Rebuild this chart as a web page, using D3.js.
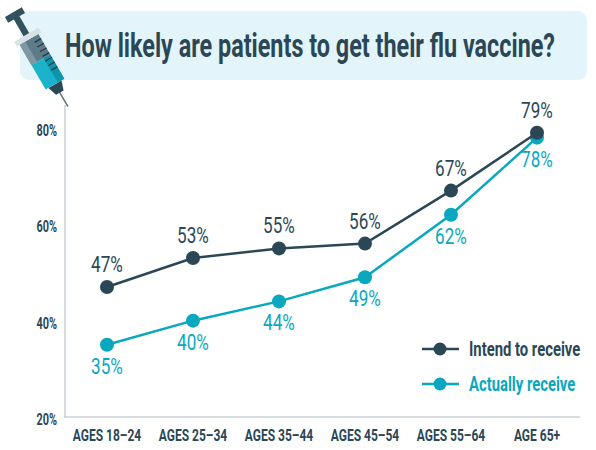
<!DOCTYPE html>
<html>
<head>
<meta charset="utf-8">
<script src="https://cdn.jsdelivr.net/npm/d3@7"></script>
<style>
  body { margin: 0; background: #fff; }
  text { font-family: Roboto, "Noto Sans", sans-serif; }
</style>
</head>
<body>
<script>
var categories = ["AGES 18–24", "AGES 25–34", "AGES 35–44", "AGES 45–54", "AGES 55–64", "AGE 65+"];
var intend = [47, 53, 55, 56, 67, 79];
var actual = [35, 40, 44, 49, 62, 78];
var yTicks = [20, 40, 60, 80];
var seriesNames = ["Intend to receive", "Actually receive"];

var dark = "#2b4756", teal = "#0aa8bf", grid = "#c9d1d6";

// the original face is a condensed DIN, so squeeze each text horizontally
function squeeze(sel, k) {
    sel.each(function() {
        var len = this.getComputedTextLength();
        d3.select(this)
            .attr("textLength", len * k)
            .attr("lengthAdjust", "spacingAndGlyphs");
    });
}

var svg = d3.select("body")
    .append("svg")
    .attr("width", 596)
    .attr("height", 450)
    .style("display", "block");

// title band
svg.append("rect")
    .attr("x", 20)
    .attr("y", 11)
    .attr("width", 567)
    .attr("height", 69)
    .attr("rx", 9)
    .attr("fill", "#e3f5fa");

svg.append("text")
    .attr("x", 65)
    .attr("y", 57)
    .attr("font-size", "34px")
    .attr("font-weight", "bold")
    .attr("fill", dark)
    .attr("textLength", 490)
    .attr("lengthAdjust", "spacingAndGlyphs")
    .text("How likely are patients to get their flu vaccine?");

// syringe
var syr = svg.append("g")
    .attr("transform", "translate(15,15) rotate(-30) scale(1.08)");

syr.append("line")
    .attr("x1", 0).attr("y1", 80).attr("x2", 0).attr("y2", 98)
    .attr("stroke", "#5f7480").attr("stroke-width", 1.4);
syr.append("path")
    .attr("d", "M-7,74 L7,74 L4,83 L-4,83 Z")
    .attr("fill", "#2b4756");
syr.append("rect")
    .attr("x", -3).attr("y", 2).attr("width", 6).attr("height", 22)
    .attr("fill", "#34515e");
syr.append("rect")
    .attr("x", -9).attr("y", -3).attr("width", 18).attr("height", 6)
    .attr("fill", "#34515e");
syr.append("rect")
    .attr("x", -10).attr("y", 26).attr("width", 20).attr("height", 22)
    .attr("fill", "#5d7b88");
syr.append("rect")
    .attr("x", -10).attr("y", 26).attr("width", 6).attr("height", 22)
    .attr("fill", "#7f98a3");
syr.append("rect")
    .attr("x", -10).attr("y", 48).attr("width", 20).attr("height", 26)
    .attr("fill", "#1bb3c9");
syr.append("rect")
    .attr("x", 3).attr("y", 48).attr("width", 7).attr("height", 26)
    .attr("fill", "#0d96ab");
syr.append("rect")
    .attr("x", -13).attr("y", 21).attr("width", 26).attr("height", 5)
    .attr("fill", "#d9e1e4");
syr.selectAll(".tick-mark")
    .data([31, 36, 41, 46, 51, 56, 61])
    .enter().append("line")
    .attr("x1", 3).attr("x2", 10)
    .attr("y1", function(d) { return d; })
    .attr("y2", function(d) { return d; })
    .attr("stroke", "#1f3a46").attr("stroke-width", 1.2);

// scales
var x = d3.scalePoint()
    .domain(categories)
    .range([64, 580])
    .padding(0.5);

var y = d3.scaleLinear()
    .domain([20, 80])
    .range([417, 128]);

// axes lines
svg.append("line")
    .attr("x1", 65).attr("y1", 105).attr("x2", 65).attr("y2", 417)
    .attr("stroke", grid).attr("stroke-width", 1.5);
svg.append("line")
    .attr("x1", 64).attr("y1", 417).attr("x2", 580).attr("y2", 417)
    .attr("stroke", grid).attr("stroke-width", 1.5);

svg.selectAll(".ytick")
    .data(yTicks)
    .enter().append("text")
    .attr("x", 57)
    .attr("y", function(d) { return y(d) + 8; })
    .attr("text-anchor", "end")
    .attr("font-size", "16.5px")
    .attr("font-weight", "bold")
    .attr("fill", dark)
    .text(function(d) { return d + "%"; })
    .call(squeeze, 0.66);

svg.selectAll(".xlabel")
    .data(categories)
    .enter().append("text")
    .attr("x", function(d) { return x(d); })
    .attr("y", 441)
    .attr("text-anchor", "middle")
    .attr("font-size", "16px")
    .attr("font-weight", "bold")
    .attr("fill", dark)
    .text(function(d) { return d; })
    .call(squeeze, 0.75);

var line = d3.line()
    .x(function(d, i) { return x(categories[i]); })
    .y(function(d) { return y(d); });

function drawSeries(values, color, above) {
    svg.append("path")
        .datum(values)
        .attr("d", line)
        .attr("fill", "none")
        .attr("stroke", color)
        .attr("stroke-width", 2.5);

    svg.selectAll(null)
        .data(values)
        .enter().append("circle")
        .attr("cx", function(d, i) { return x(categories[i]); })
        .attr("cy", function(d) { return y(d); })
        .attr("r", 7)
        .attr("fill", color);

    svg.selectAll(null)
        .data(values)
        .enter().append("text")
        .attr("x", function(d, i) { return x(categories[i]); })
        .attr("y", function(d) { return above ? y(d) - 15 : y(d) + 29; })
        .attr("text-anchor", "middle")
        .attr("font-size", "22.5px")
        .attr("fill", color)
        .text(function(d) { return d + "%"; })
        .call(squeeze, 0.76);
}

drawSeries(actual, teal, false);
drawSeries(intend, dark, true);

// legend
var legend = svg.selectAll(".legend")
    .data(seriesNames)
    .enter().append("g")
    .attr("transform", function(d, i) { return "translate(0," + (349 + i * 35) + ")"; });

legend.append("line")
    .attr("x1", 422).attr("x2", 459).attr("y1", 0).attr("y2", 0)
    .attr("stroke", function(d, i) { return i ? teal : dark; })
    .attr("stroke-width", 2.5);
legend.append("circle")
    .attr("cx", 440).attr("cy", 0).attr("r", 6.5)
    .attr("fill", function(d, i) { return i ? teal : dark; });
legend.append("text")
    .attr("x", 469)
    .attr("y", 6.5)
    .attr("font-size", "19.5px")
    .attr("font-weight", "bold")
    .attr("fill", function(d, i) { return i ? teal : dark; })
    .text(function(d) { return d; })
    .call(squeeze, 0.76);
</script>
</body>
</html>
